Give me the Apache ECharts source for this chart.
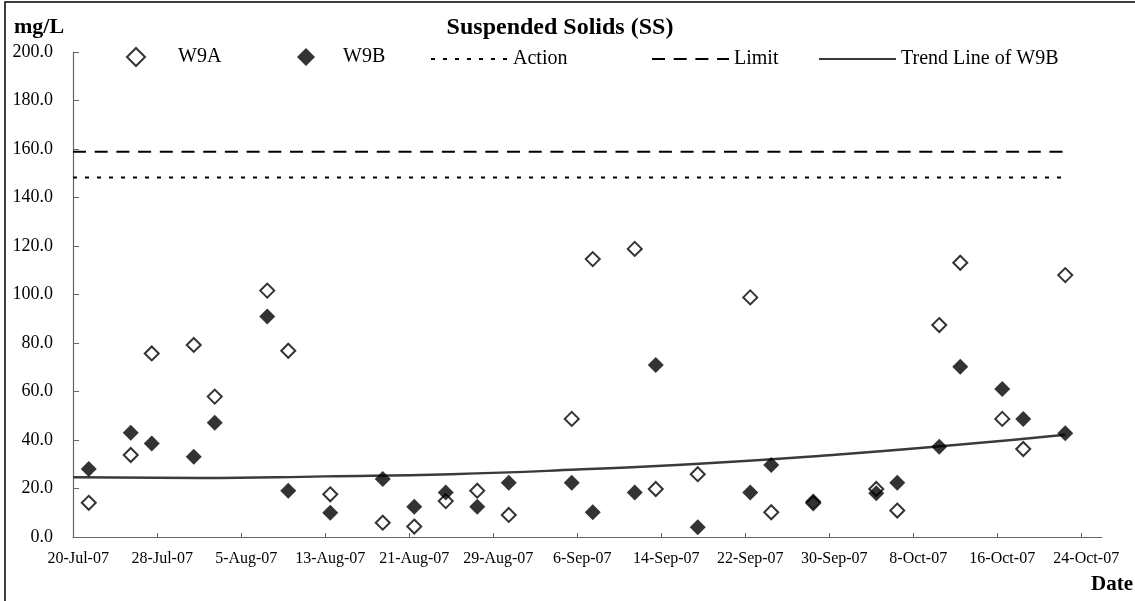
<!DOCTYPE html>
<html>
<head>
<meta charset="utf-8">
<title>Suspended Solids (SS)</title>
<script src="https://cdn.jsdelivr.net/npm/echarts@6.0.0/dist/echarts.min.js"></script>
<style>
  html, body { margin: 0; padding: 0; background: #fff; }
  #chart { width: 1135px; height: 601px; }
</style>
</head>
<body>
<div id="chart"></div>
<script>
// sampling dates and SS readings (mg/L)
const sampleDates = ['21-Jul-07', '25-Jul-07', '27-Jul-07', '31-Jul-07', '2-Aug-07', '7-Aug-07', '9-Aug-07',
  '13-Aug-07', '18-Aug-07', '21-Aug-07', '24-Aug-07', '27-Aug-07', '30-Aug-07', '5-Sep-07', '7-Sep-07',
  '11-Sep-07', '13-Sep-07', '17-Sep-07', '22-Sep-07', '24-Sep-07', '28-Sep-07', '4-Oct-07', '6-Oct-07',
  '10-Oct-07', '12-Oct-07', '16-Oct-07', '18-Oct-07', '22-Oct-07']
const w9a = [14.1, 33.8, 75.7, 79.2, 57.9, 101.6, 76.8, 17.6, 5.9, 4.3, 14.8, 19.1, 9.1, 48.7, 114.6,
  118.8, 19.8, 25.9, 98.8, 10.2, 14.0, 19.8, 10.9, 87.4, 113.1, 48.7, 36.3, 108.0]
const w9b = [28.0, 43.0, 38.6, 33.1, 47.1, 90.9, 19.1, 10.0, 23.9, 12.5, 18.3, 12.5, 22.4, 22.4, 10.2,
  18.3, 70.9, 4.0, 18.3, 29.7, 14.6, 18.0, 22.4, 37.2, 70.2, 61.0, 48.7, 42.8]

// Action / Limit levels
const actionLevel = 148.2
const limitLevel = 158.9

// trend line of W9B as drawn in the chart (days after 20-Jul-07)
const trendDays = [0, 12, 24, 36, 48, 60, 72, 84, 94.5]
const trendValues = [24.6, 24.3, 25.0, 25.9, 27.8, 30.3, 33.7, 37.9, 42.2]

// x axis tick labels
const xTickLabels = ['20-Jul-07', '28-Jul-07', '5-Aug-07', '13-Aug-07', '21-Aug-07', '29-Aug-07', '6-Sep-07',
  '14-Sep-07', '22-Sep-07', '30-Sep-07', '8-Oct-07', '16-Oct-07', '24-Oct-07']

const SERIF = "'Liberation Serif', 'Times New Roman', serif"
const MONTHS = { Jul: 6, Aug: 7, Sep: 8, Oct: 9 }
const START = Date.UTC(2007, 6, 20)

// '21-Jul-07' -> days after 20-Jul-07
const toDay = s => {
  const [d, m, y] = s.split('-')
  return (Date.UTC(2000 + Number(y), MONTHS[m], Number(d)) - START) / 864e5
}

const tickDays = xTickLabels.map(toDay)
const labelByDay = {}
xTickLabels.forEach((l, i) => { labelByDay[tickDays[i]] = l })

// points sit in the middle of their day, like the excel date axis
const xs = sampleDates.map(d => toDay(d) + 0.5)
const lastX = xs[xs.length - 1]

const chart = echarts.init(document.getElementById('chart'))

const legendText = { fontFamily: SERIF, fontSize: 20, color: '#000' }

// line legends: just the dashed line, no marker
const lineLegend = (name, left) => ({
  data: [name], left: left, top: 44, itemWidth: 77, itemHeight: 14,
  itemStyle: { opacity: 0 },
  textStyle: legendText
})

const option = {
  animation: false,
  title: [
    {
      text: 'Suspended Solids (SS)', left: 555, top: 11, textAlign: 'center',
      textStyle: { fontFamily: SERIF, fontSize: 24, fontWeight: 'bold', color: '#000' }
    },
    {
      text: 'mg/L', left: 9, top: 11,
      textStyle: { fontFamily: SERIF, fontSize: 22, fontWeight: 'bold', color: '#000' }
    },
    {
      text: 'Date', left: 1086, top: 569,
      textStyle: { fontFamily: SERIF, fontSize: 21, fontWeight: 'bold', color: '#000' }
    }
  ],
  legend: [
    {
      data: ['W9A'], left: 121, top: 42, itemWidth: 18, itemHeight: 18,
      textStyle: Object.assign({ padding: [0, 0, 0, 28] }, legendText)
    },
    {
      data: ['W9B'], left: 292, top: 42, itemWidth: 18, itemHeight: 18,
      textStyle: Object.assign({ padding: [0, 0, 0, 23] }, legendText)
    },
    lineLegend('Action', 425),
    lineLegend('Limit', 646),
    lineLegend('Trend Line of W9B', 813)
  ],
  graphic: [
    {
      type: 'rect', silent: true,
      shape: { x: 5, y: 2, width: 1150, height: 620 },
      style: { fill: 'none', stroke: '#000', lineWidth: 1.5 }
    }
  ],
  grid: { left: 73, right: 33, top: 52, bottom: 64 },
  xAxis: {
    type: 'value',
    min: 0,
    max: 98,
    splitLine: { show: false },
    axisLine: { lineStyle: { color: '#666', width: 1.2 } },
    axisTick: { inside: true, length: 4, customValues: tickDays, lineStyle: { color: '#666' } },
    axisLabel: {
      customValues: tickDays.map(d => d + 0.5),
      formatter: v => labelByDay[v - 0.5] || '',
      fontFamily: SERIF,
      fontSize: 16,
      color: '#000',
      margin: 14
    }
  },
  yAxis: {
    type: 'value',
    min: 0,
    max: 200,
    interval: 20,
    splitLine: { show: false },
    axisLine: { show: true, lineStyle: { color: '#666', width: 1.2 } },
    axisTick: { show: true, inside: true, length: 6, lineStyle: { color: '#666' } },
    axisLabel: {
      formatter: v => v.toFixed(1),
      fontFamily: SERIF,
      fontSize: 18,
      color: '#000',
      margin: 20
    }
  },
  series: [
    {
      name: 'W9A',
      type: 'scatter',
      data: xs.map((x, i) => [x, w9a[i]]),
      symbol: 'diamond',
      symbolSize: 14,
      itemStyle: { color: '#fff', borderColor: '#000', borderWidth: 2 },
      emphasis: { disabled: true },
      z: 4
    },
    {
      name: 'W9B',
      type: 'scatter',
      data: xs.map((x, i) => [x, w9b[i]]),
      symbol: 'diamond',
      symbolSize: 16,
      itemStyle: { color: '#000' },
      emphasis: { disabled: true },
      z: 5
    },
    {
      name: 'Action',
      type: 'line',
      data: [[0, actionLevel], [lastX, actionLevel]],
      symbol: 'none',
      itemStyle: { color: '#000' },
      lineStyle: { color: '#000', width: 2, type: [4, 8] },
      emphasis: { disabled: true },
      z: 2
    },
    {
      name: 'Limit',
      type: 'line',
      data: [[0, limitLevel], [lastX, limitLevel]],
      symbol: 'none',
      itemStyle: { color: '#000' },
      lineStyle: { color: '#000', width: 2, type: [13, 8.7] },
      emphasis: { disabled: true },
      z: 2
    },
    {
      name: 'Trend Line of W9B',
      type: 'line',
      data: trendDays.map((d, i) => [d, trendValues[i]]),
      symbol: 'none',
      smooth: true,
      itemStyle: { color: '#3a3a3a' },
      lineStyle: { color: '#3a3a3a', width: 2.5 },
      emphasis: { disabled: true },
      z: 3
    }
  ]
}

chart.setOption(option)
</script>
</body>
</html>
